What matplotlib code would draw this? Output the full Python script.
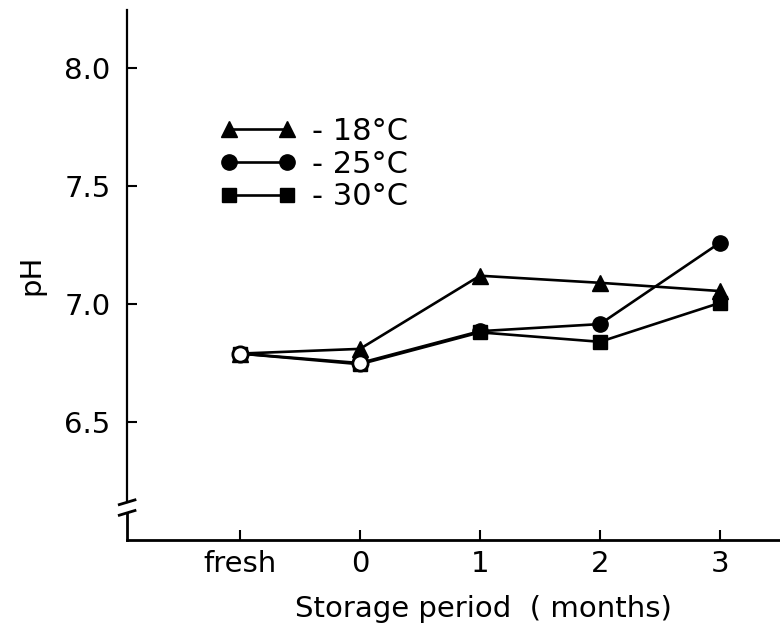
import numpy as np
import matplotlib
matplotlib.use("Agg")
from matplotlib import pyplot as plt
import matplotlib.transforms as mtransforms

# storage period categories and pH readings
periods = ["fresh", "0", "1", "2", "3"]
ph_18 = [6.79, 6.81, 7.12, 7.09, 7.055]
ph_25 = [6.79, 6.75, 6.885, 6.915, 7.26]
ph_30 = [6.79, 6.745, 6.88, 6.84, 7.005]
y_ticks = [6.5, 7.0, 7.5, 8.0]
y_ticklabels = ["6.5", "7.0", "7.5", "8.0"]

plt.rcParams["font.family"] = ["DejaVu Sans"]

fig = plt.figure(figsize=(7.8, 6.35), dpi=100)
ax = fig.add_axes([0.163, 0.1496, 0.837, 0.8346])

x = np.arange(len(periods))
lw = 1.9

ax.plot(x, ph_30, color="black", lw=lw, marker="s", ms=10, label="- 30°C", zorder=3)
ax.plot(x, ph_25, color="black", lw=lw, marker="o", ms=11, label="- 25°C", zorder=2)
ax.plot(x, ph_18, color="black", lw=lw, marker="^", ms=11, label="- 18°C", zorder=4)
# fresh and 0-month 25°C points drawn open
ax.plot(x[:2], ph_25[:2], linestyle="none", marker="o", ms=11, mfc="white",
        mec="black", mew=2, zorder=5)

ax.set_xlim(-0.94, 4.5)
ax.set_ylim(6.0, 8.246)

ax.set_xticks(x)
ax.set_xticklabels(periods, fontsize=21)
ax.set_yticks(y_ticks)
ax.set_yticklabels(y_ticklabels, fontsize=21)
ax.tick_params(axis="both", direction="in", length=7, width=1.5, pad=7)
ax.tick_params(axis="y", pad=12)

for s in ["top", "right", "left"]:
    ax.spines[s].set_visible(False)
ax.spines["bottom"].set_linewidth(2)

# y axis with a break near the bottom
trans = mtransforms.blended_transform_factory(ax.transAxes, ax.transData)
ax.plot([0, 0], [6.0, 6.115], color="black", lw=2, transform=trans, clip_on=False)
ax.plot([0, 0], [6.16, 8.246], color="black", lw=1.6, transform=trans, clip_on=False)
ax.plot([-0.012, 0.012], [6.105, 6.125], color="black", lw=2, transform=trans, clip_on=False)
ax.plot([-0.012, 0.012], [6.15, 6.17], color="black", lw=2, transform=trans, clip_on=False)

ax.set_xlabel("Storage period  ( months)", fontsize=21)
ax.xaxis.set_label_coords(0.545, -0.103)
ax.set_ylabel("pH", fontsize=21)
ax.yaxis.set_label_coords(-0.125, 0.5)

handles, labels = ax.get_legend_handles_labels()
order = [2, 1, 0]
ax.legend([handles[i] for i in order], [labels[i] for i in order],
          numpoints=2, frameon=False, fontsize=22, handlelength=2.5,
          handletextpad=0.5, labelspacing=0.12,
          loc="upper left", bbox_to_anchor=(0.1, 0.85))

fig.savefig("out.png", dpi=100)
